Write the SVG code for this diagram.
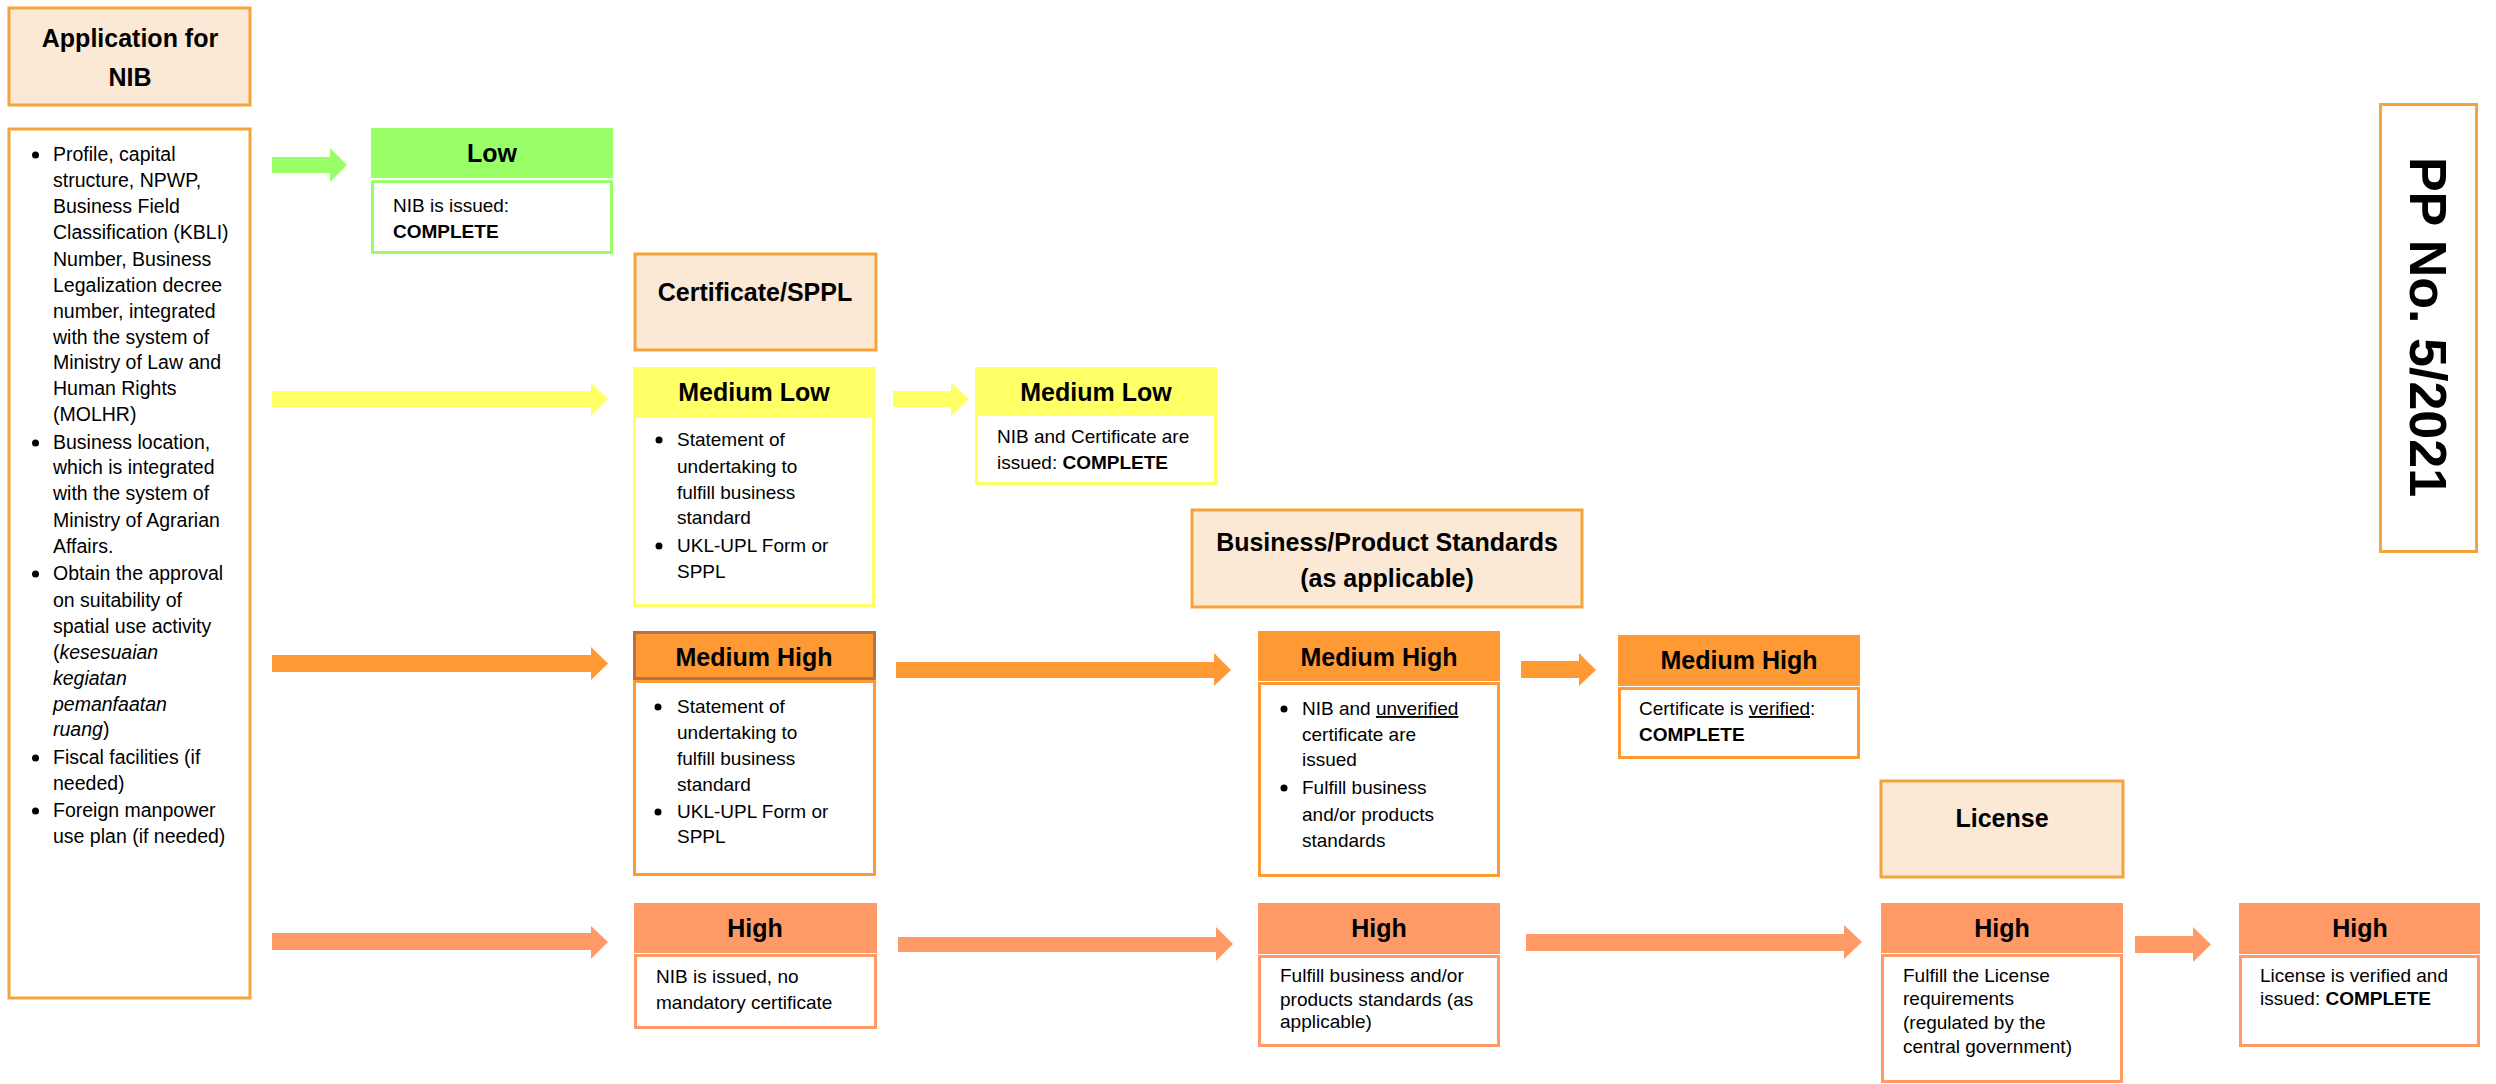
<svg xmlns="http://www.w3.org/2000/svg" width="2496" height="1084" viewBox="0 0 2496 1084">
<style>
text{font-family:"Liberation Sans",Arial,sans-serif;fill:#000}
.h{font-size:25px;font-weight:bold;text-anchor:middle}
.b{font-size:19px}
.l{font-size:19.5px}
.peach{fill:#FBE9D6;stroke:#F4A43A;stroke-width:3}
.bg{fill:#fff;stroke:#99FF66;stroke-width:3}
.by{fill:#fff;stroke:#FFFF66;stroke-width:3}
.bo{fill:#fff;stroke:#FF9933;stroke-width:3}
.bh{fill:#fff;stroke:#FF9966;stroke-width:3}
.hg{fill:#99FF66}
.hy{fill:#FFFF66}
.ho{fill:#FF9933}
.hh{fill:#FF9966}
.it{font-style:italic}
.bd{font-weight:bold}
.u{text-decoration:underline}
</style>

<g id="connectors">
<polygon class="hg" points="272,157 330,157 330,148 347,165 330,182 330,173 272,173"/>
<polygon class="hy" points="272,391 591,391 591,383 608,399 591,416 591,407 272,407"/>
<polygon class="ho" points="272,655 591,655 591,647 608,663.5 591,680 591,672 272,672"/>
<polygon class="hh" points="272,933 591,933 591,926 608,942 591,959 591,950 272,950"/>
<polygon class="hy" points="893,391 951,391 951,383 969,399 951,416 951,407 893,407"/>
<polygon class="ho" points="896,662 1214,662 1214,653 1231,670 1214,686 1214,678 896,678"/>
<polygon class="hh" points="898,937 1216,937 1216,927 1233,944 1216,961 1216,952 898,952"/>
<polygon class="ho" points="1521,661 1579,661 1579,653 1596,670 1579,686 1579,678 1521,678"/>
<polygon class="hh" points="1526,934 1844,934 1844,925 1862,942 1844,959 1844,951 1526,951"/>
<polygon class="hh" points="2135,936 2193,936 2193,927 2211,944.5 2193,962 2193,953 2135,953"/>
</g>

<g id="app-title">
<rect class="peach" x="9" y="8" width="241" height="97"/>
<text class="h" x="130" y="47">Application for</text>
<text class="h" x="130" y="86">NIB</text>
</g>

<g id="app-list">
<rect class="peach" x="9" y="129" width="241" height="869" style="fill:#fff"/>
<circle cx="35.5" cy="155" r="3.5"/>
<circle cx="35.5" cy="443" r="3.5"/>
<circle cx="35.5" cy="574" r="3.5"/>
<circle cx="35.5" cy="758" r="3.5"/>
<circle cx="35.5" cy="811" r="3.5"/>
<text class="l">
<tspan x="53" y="161">Profile, capital</tspan>
<tspan x="53" y="187">structure, NPWP,</tspan>
<tspan x="53" y="213">Business Field</tspan>
<tspan x="53" y="239">Classification (KBLI)</tspan>
<tspan x="53" y="266">Number, Business</tspan>
<tspan x="53" y="292">Legalization decree</tspan>
<tspan x="53" y="318">number, integrated</tspan>
<tspan x="53" y="344">with the system of</tspan>
<tspan x="53" y="369">Ministry of Law and</tspan>
<tspan x="53" y="395">Human Rights</tspan>
<tspan x="53" y="421">(MOLHR)</tspan>
<tspan x="53" y="449">Business location,</tspan>
<tspan x="53" y="474">which is integrated</tspan>
<tspan x="53" y="500">with the system of</tspan>
<tspan x="53" y="527">Ministry of Agrarian</tspan>
<tspan x="53" y="553">Affairs.</tspan>
<tspan x="53" y="580">Obtain the approval</tspan>
<tspan x="53" y="607">on suitability of</tspan>
<tspan x="53" y="633">spatial use activity</tspan>
<tspan x="53" y="659">(<tspan class="it">kesesuaian</tspan></tspan>
<tspan x="53" y="685" class="it">kegiatan</tspan>
<tspan x="53" y="711" class="it">pemanfaatan</tspan>
<tspan x="53" y="736"><tspan class="it">ruang</tspan>)</tspan>
<tspan x="53" y="764">Fiscal facilities (if</tspan>
<tspan x="53" y="790">needed)</tspan>
<tspan x="53" y="817">Foreign manpower</tspan>
<tspan x="53" y="843">use plan (if needed)</tspan>
</text>
</g>

<g id="low">
<rect class="hg" x="371" y="128" width="242" height="50"/>
<rect class="bg" x="372.5" y="181.5" width="239" height="71"/>
<text class="h" x="492" y="162">Low</text>
<text class="b"><tspan x="393" y="212">NIB is issued:</tspan><tspan x="393" y="238" class="bd">COMPLETE</tspan></text>
</g>

<g id="cert-sppl">
<rect class="peach" x="635" y="254" width="241" height="96"/>
<text class="h" x="755" y="301">Certificate/SPPL</text>
</g>

<g id="medium-low-1">
<rect class="hy" x="633" y="367" width="242" height="48"/>
<rect class="by" x="634.5" y="416.5" width="239" height="189"/>
<text class="h" x="754" y="401">Medium Low</text>
<circle cx="659" cy="440" r="3.5"/>
<circle cx="659" cy="546" r="3.5"/>
<text class="b">
<tspan x="677" y="446">Statement of</tspan>
<tspan x="677" y="473">undertaking to</tspan>
<tspan x="677" y="499">fulfill business</tspan>
<tspan x="677" y="524">standard</tspan>
<tspan x="677" y="552">UKL-UPL Form or</tspan>
<tspan x="677" y="578">SPPL</tspan>
</text>
</g>

<g id="medium-low-2">
<rect class="hy" x="975" y="367" width="242" height="46"/>
<rect class="by" x="976.5" y="414.5" width="239" height="69"/>
<text class="h" x="1096" y="401">Medium Low</text>
<text class="b"><tspan x="997" y="443">NIB and Certificate are</tspan><tspan x="997" y="469">issued: <tspan class="bd">COMPLETE</tspan></tspan></text>
</g>

<g id="bps">
<rect class="peach" x="1192" y="510" width="390" height="97"/>
<text class="h" x="1387" y="551">Business/Product Standards</text>
<text class="h" x="1387" y="587">(as applicable)</text>
</g>

<g id="medium-high-1">
<rect class="ho" x="634.5" y="632.5" width="240" height="46" style="stroke:#B4714A;stroke-width:3"/>
<rect class="bo" x="634.5" y="681.5" width="240" height="193"/>
<text class="h" x="754" y="666">Medium High</text>
<circle cx="658" cy="707" r="3.5"/>
<circle cx="658" cy="812" r="3.5"/>
<text class="b">
<tspan x="677" y="713">Statement of</tspan>
<tspan x="677" y="739">undertaking to</tspan>
<tspan x="677" y="765">fulfill business</tspan>
<tspan x="677" y="791">standard</tspan>
<tspan x="677" y="818">UKL-UPL Form or</tspan>
<tspan x="677" y="843">SPPL</tspan>
</text>
</g>

<g id="medium-high-2">
<rect class="ho" x="1258" y="631" width="242" height="50"/>
<rect class="bo" x="1259.5" y="683.5" width="239" height="192"/>
<text class="h" x="1379" y="666">Medium High</text>
<circle cx="1284" cy="709" r="3.5"/>
<circle cx="1284" cy="788" r="3.5"/>
<text class="b">
<tspan x="1302" y="715">NIB and <tspan class="u">unverified</tspan></tspan>
<tspan x="1302" y="741">certificate are</tspan>
<tspan x="1302" y="766">issued</tspan>
<tspan x="1302" y="794">Fulfill business</tspan>
<tspan x="1302" y="821">and/or products</tspan>
<tspan x="1302" y="847">standards</tspan>
</text>
</g>

<g id="medium-high-3">
<rect class="ho" x="1618" y="635" width="242" height="51"/>
<rect class="bo" x="1619.5" y="688.5" width="239" height="69"/>
<text class="h" x="1739" y="669">Medium High</text>
<text class="b"><tspan x="1639" y="715">Certificate is <tspan class="u">verified</tspan>:</tspan><tspan x="1639" y="741" class="bd">COMPLETE</tspan></text>
</g>

<g id="license">
<rect class="peach" x="1881" y="781" width="242" height="96"/>
<text class="h" x="2002" y="827">License</text>
</g>

<g id="high-1">
<rect class="hh" x="634" y="903" width="243" height="50"/>
<rect class="bh" x="635.5" y="955.5" width="240" height="72"/>
<text class="h" x="755" y="937">High</text>
<text class="b"><tspan x="656" y="983">NIB is issued, no</tspan><tspan x="656" y="1009">mandatory certificate</tspan></text>
</g>

<g id="high-2">
<rect class="hh" x="1258" y="903" width="242" height="51"/>
<rect class="bh" x="1259.5" y="956.5" width="239" height="89"/>
<text class="h" x="1379" y="937">High</text>
<text class="b"><tspan x="1280" y="982">Fulfill business and/or</tspan><tspan x="1280" y="1006">products standards (as</tspan><tspan x="1280" y="1028">applicable)</tspan></text>
</g>

<g id="high-3">
<rect class="hh" x="1881" y="903" width="242" height="50"/>
<rect class="bh" x="1882.5" y="955.5" width="239" height="126"/>
<text class="h" x="2002" y="937">High</text>
<text class="b"><tspan x="1903" y="982">Fulfill the License</tspan><tspan x="1903" y="1005">requirements</tspan><tspan x="1903" y="1029">(regulated by the</tspan><tspan x="1903" y="1053">central government)</tspan></text>
</g>

<g id="high-4">
<rect class="hh" x="2239" y="903" width="241" height="51"/>
<rect class="bh" x="2240.5" y="956.5" width="238" height="89"/>
<text class="h" x="2360" y="937">High</text>
<text class="b"><tspan x="2260" y="982">License is verified and</tspan><tspan x="2260" y="1005">issued: <tspan class="bd">COMPLETE</tspan></tspan></text>
</g>

<g id="pp-title">
<rect x="2380.5" y="104.5" width="96" height="447" style="fill:#fff;stroke:#F4A43A;stroke-width:3"/>
<text x="2428" y="327" transform="rotate(90 2428 327)" style="font-size:52px;font-weight:bold;text-anchor:middle;dominant-baseline:central">PP No. 5/2021</text>
</g>
</svg>
